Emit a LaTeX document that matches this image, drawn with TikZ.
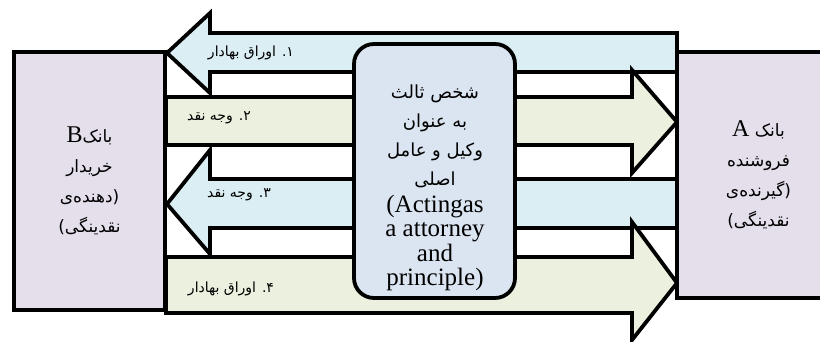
\documentclass[tikz,border=0pt]{standalone}
\usepackage{fontspec}
\setmainfont{Liberation Serif}
\newfontfamily\arabicfont[Script=Arabic]{DejaVu Sans}
\TeXXeTstate=1
\usetikzlibrary{positioning}

\definecolor{bankfill}{HTML}{E5DFEC}
\definecolor{agentfill}{HTML}{DBE5F1}
\definecolor{paperblue}{HTML}{DAEEF3}
\definecolor{cashgreen}{HTML}{EBF1DE}

\tikzset{
  flow/.style={draw=black, line width=3.8pt, line join=miter},
  bank/.style={draw=black, line width=3.8pt, fill=bankfill, align=center,
    font=\arabicfont\fontsize{17}{30}\selectfont},
  agent/.style={draw=black, line width=3.8pt, fill=agentfill, rounded corners=20pt,
    minimum width=161pt, minimum height=254pt},
  flowlabel/.style={font=\arabicfont\fontsize{14}{16}\selectfont},
}

\begin{document}
\begin{tikzpicture}[x=1pt, y=-1pt]
    \useasboundingbox (0,0) rectangle (820,341);
    % arrows between the banks
    \draw [flow, fill=paperblue] (677,33) -- (210,33) -- (210,13) -- (167,53) -- (210,93) -- (210,72) -- (677,72) -- cycle;
    \draw [flow, fill=cashgreen] (166,97) -- (632,97) -- (632,70) -- (677,122) -- (632,173) -- (632,145) -- (166,145) -- cycle;
    \draw [flow, fill=paperblue] (677,179) -- (210,179) -- (210,150) -- (167,204) -- (210,254) -- (210,228) -- (677,228) -- cycle;
    \draw [flow, fill=cashgreen] (166,257) -- (632,257) -- (632,222) -- (677,283) -- (632,340) -- (632,313) -- (166,313) -- cycle;
    \node[flowlabel] (lbl1) at (251,53) {\beginR ۱. اوراق بهادار\endR};
    \node[flowlabel] (lbl2) at (219,118) {\beginR ۲. وجه نقد\endR};
    \node[flowlabel] (lbl3) at (239,195) {\beginR ۳. وجه نقد\endR};
    \node[flowlabel] (lbl4) at (231,289) {\beginR ۴. اوراق بهادار\endR};
    % third party
    \node[agent] (agent) at (434.5,171) {};
    \node[align=center, font=\arabicfont\fontsize{18}{29}\selectfont] (agenttxt) at (435,188)
      {\beginR شخص ثالث\endR\\ \beginR به عنوان\endR\\ \beginR وکیل و عامل\endR\\ اصلی\\[-2pt]
       {\rmfamily\fontsize{25}{23}\selectfont (Actingas}\\[-4.5pt]
       {\rmfamily\fontsize{25}{23}\selectfont a attorney}\\[-4.5pt]
       {\rmfamily\fontsize{25}{23}\selectfont and}\\[-4.5pt]
       {\rmfamily\fontsize{25}{23}\selectfont principle)}};
    % banks
    \node[bank, minimum width=151pt, minimum height=258pt] (bankB) at (89.5,181)
      {{\rmfamily\fontsize{24}{24}\selectfont B}بانک\\ خریدار\\ دهنده‌ی\hbox{(}\\ \hbox{)}نقدینگی};
    \node[bank, minimum width=163pt, minimum height=246pt] (bankA) at (758.5,175)
      {{\rmfamily\fontsize{24}{24}\selectfont A} بانک\\ فروشنده\\ گیرنده‌ی\hbox{(}\\ \hbox{)}نقدینگی};
\end{tikzpicture}
\end{document}
